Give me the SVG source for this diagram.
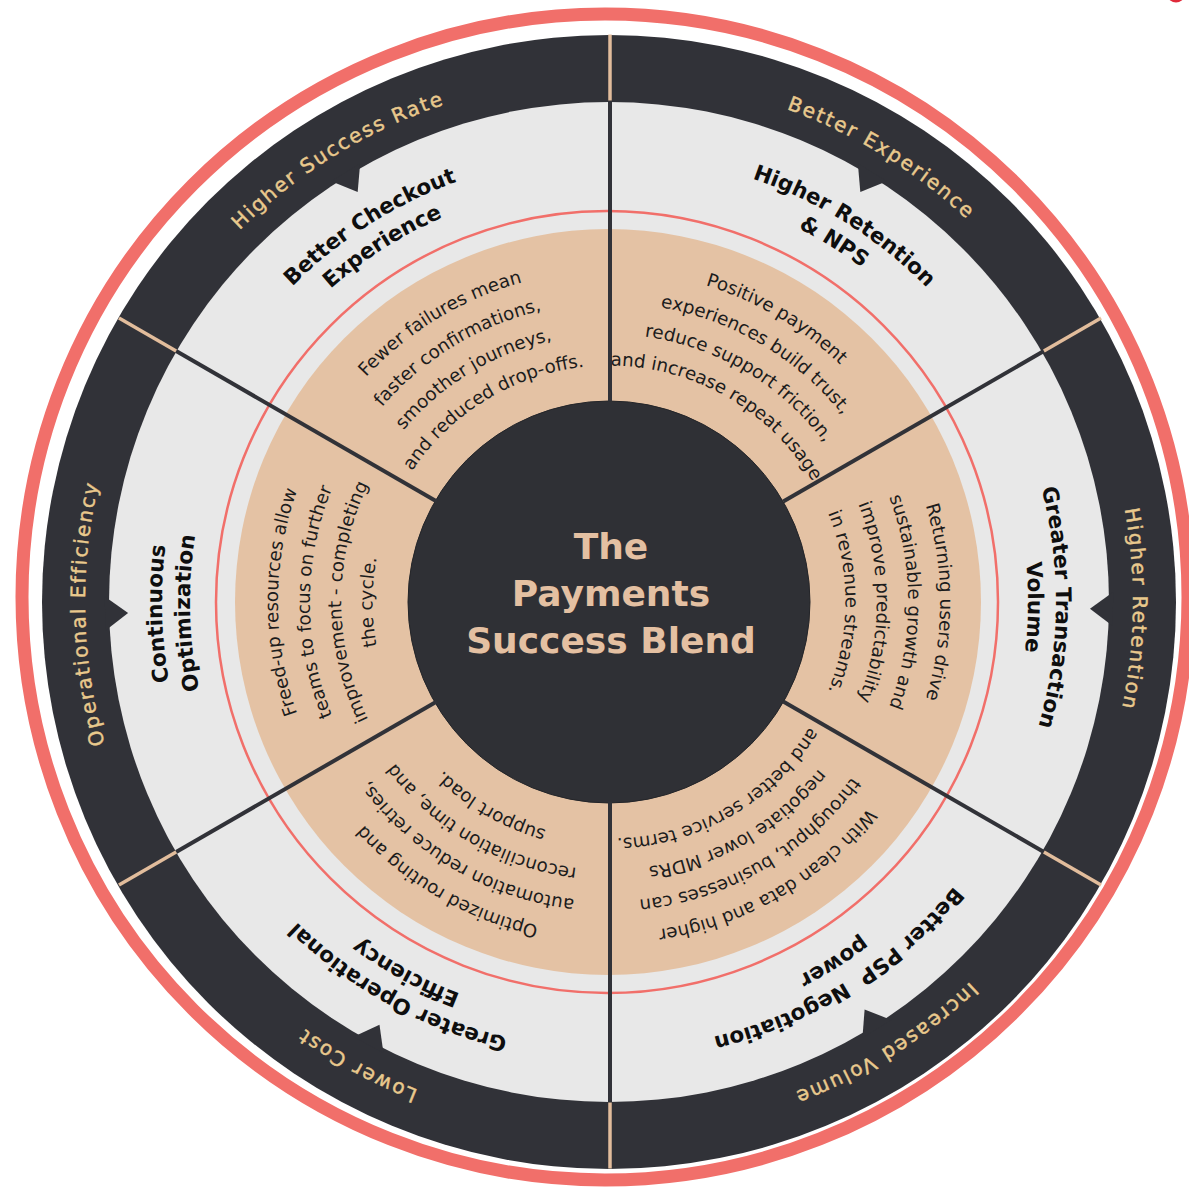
<svg xmlns="http://www.w3.org/2000/svg" width="1189" height="1195" viewBox="0 0 1189 1195">
  <style>
    .ring-dark{fill:#313238}
    .ring-gray{fill:#e8e8e8}
    .ring-tan{fill:#e4c2a4}
    .hub{fill:#2f3035;stroke:#242529;stroke-width:1}
    .notch{fill:#313238}
    .div-in{stroke:#313238;stroke-width:4}
    .div-out{stroke:#e2bd9c;stroke-width:3.5}
    .out{font-family:"DejaVu Sans",sans-serif;font-size:20px;fill:#e9c98d;stroke:#e9c98d;stroke-width:0.45px;letter-spacing:2px;text-anchor:middle}
    .lbl{font-family:"DejaVu Sans",sans-serif;font-weight:bold;font-size:21.5px;fill:#0e0e0e;text-anchor:middle}
    .desc{font-family:"DejaVu Sans",sans-serif;font-size:18.3px;fill:#1c1c1c;text-anchor:middle}
    .title{font-family:"DejaVu Sans",sans-serif;font-weight:bold;font-size:36px;fill:#e4c0a2;text-anchor:middle}
  </style>
  <defs>
    <!-- baseline arcs, drawn for a sector that points straight up from the hub -->
    <path id="pOut" d="M-336.8,-401.4 A524,524 0 0 1 336.8,-401.4"/>
    <path id="pM1" d="M-316.1,-316.1 A447,447 0 0 1 316.1,-316.1"/>
    <path id="pM2" d="M-296.3,-296.3 A419,419 0 0 1 296.3,-296.3"/>
    <path id="pD1" d="M-326,-57.5 A331,331 0 0 1 326,-57.5"/>
    <path id="pD2" d="M-294.9,-52 A299.5,299.5 0 0 1 294.9,-52"/>
    <path id="pD3" d="M-263.9,-46.5 A268,268 0 0 1 263.9,-46.5"/>
    <path id="pD4" d="M-232.9,-41.1 A236.5,236.5 0 0 1 232.9,-41.1"/>
    <path id="notch" class="notch" d="M-17,-504 L0,-481 L17,-504 Z"/>
    <line id="divIn" class="div-in" x1="0" y1="-200" x2="0" y2="-501"/>
    <line id="divOut" class="div-out" x1="0" y1="-501" x2="0" y2="-567"/>
  </defs>

  <!-- outer red rim -->
  <circle cx="605" cy="597" r="583" fill="none" stroke="#f16f6a" stroke-width="13"/>
  <!-- small red mark at the top right corner -->
  <ellipse cx="1176" cy="-4" rx="8" ry="6.5" fill="#e02a3a"/>

  <!-- rings -->
  <g id="rings">
    <circle class="ring-dark" cx="609" cy="602" r="567"/>
    <circle class="ring-gray" cx="609" cy="602" r="500"/>
    <circle cx="607" cy="602" r="391" fill="none" stroke="#f16f6a" stroke-width="2.5"/>
    <circle class="ring-tan" cx="608" cy="602" r="373"/>
  </g>

  <!-- sector 1: top left -->
  <g id="sector-success" transform="translate(609 602) rotate(-30)">
    <g transform="rotate(-1.5)">
      <use href="#notch"/>
      <text class="out"><textPath href="#pOut" startOffset="50%">Higher Success Rate</textPath></text>
    </g>
    <g transform="rotate(-2.5)">
      <text class="lbl"><textPath href="#pM1" startOffset="50%">Better Checkout</textPath></text>
      <text class="lbl"><textPath href="#pM2" startOffset="50%">Experience</textPath></text>
    </g>
    <g transform="rotate(-1.2)">
      <text class="desc"><textPath href="#pD1" startOffset="50%">Fewer failures mean</textPath></text>
      <text class="desc"><textPath href="#pD2" startOffset="50%">faster confirmations,</textPath></text>
      <text class="desc"><textPath href="#pD3" startOffset="50%">smoother journeys,</textPath></text>
      <text class="desc"><textPath href="#pD4" startOffset="50%">and reduced drop-offs.</textPath></text>
    </g>
  </g>

  <!-- sector 2: top right -->
  <g id="sector-experience" transform="translate(609 602) rotate(30)">
    <g transform="rotate(1.5)">
      <use href="#notch"/>
      <text class="out"><textPath href="#pOut" startOffset="50%">Better Experience</textPath></text>
    </g>
    <g transform="rotate(2)">
      <text class="lbl"><textPath href="#pM1" startOffset="50%">Higher Retention</textPath></text>
      <text class="lbl"><textPath href="#pM2" startOffset="50%">&amp; NPS</textPath></text>
    </g>
    <g transform="rotate(0.6)">
      <text class="desc"><textPath href="#pD1" startOffset="50%">Positive payment</textPath></text>
      <text class="desc"><textPath href="#pD2" startOffset="50%">experiences build trust,</textPath></text>
      <text class="desc"><textPath href="#pD3" startOffset="50%">reduce support friction,</textPath></text>
      <text class="desc"><textPath href="#pD4" startOffset="50%">and increase repeat usage.</textPath></text>
    </g>
  </g>

  <!-- sector 3: right -->
  <g id="sector-retention" transform="translate(609 602) rotate(90)">
    <g transform="rotate(0.8)">
      <use href="#notch"/>
      <text class="out"><textPath href="#pOut" startOffset="50%">Higher Retention</textPath></text>
    </g>
    <g transform="rotate(0.7)">
      <text class="lbl"><textPath href="#pM1" startOffset="50%">Greater Transaction</textPath></text>
      <text class="lbl"><textPath href="#pM2" startOffset="50%">Volume</textPath></text>
    </g>
    <g>
      <text class="desc"><textPath href="#pD1" startOffset="50%">Returning users drive</textPath></text>
      <text class="desc"><textPath href="#pD2" startOffset="50%">sustainable growth and</textPath></text>
      <text class="desc"><textPath href="#pD3" startOffset="50%">improve predictability</textPath></text>
      <text class="desc"><textPath href="#pD4" startOffset="50%">in revenue streams.</textPath></text>
    </g>
  </g>

  <!-- sector 4: bottom right -->
  <g id="sector-volume" transform="translate(609 602) rotate(150)">
    <g transform="rotate(-2.1)">
      <use href="#notch"/>
      <text class="out"><textPath href="#pOut" startOffset="50%">Increased Volume</textPath></text>
    </g>
    <g transform="rotate(-2)">
      <text class="lbl" xml:space="preserve"><textPath href="#pM1" startOffset="50%">Better PSP  Negotiation</textPath></text>
      <text class="lbl"><textPath href="#pM2" startOffset="50%">power</textPath></text>
    </g>
    <g>
      <text class="desc"><textPath href="#pD1" startOffset="50%">With clean data and higher</textPath></text>
      <text class="desc"><textPath href="#pD2" startOffset="50%">throughput, businesses can</textPath></text>
      <text class="desc"><textPath href="#pD3" startOffset="50%">negotiate lower MDRs</textPath></text>
      <text class="desc"><textPath href="#pD4" startOffset="50%">and better service terms.</textPath></text>
    </g>
  </g>

  <!-- sector 5: bottom left -->
  <g id="sector-cost" transform="translate(609 602) rotate(210)">
    <g transform="rotate(-1.5)">
      <use href="#notch"/>
      <text class="out"><textPath href="#pOut" startOffset="50%">Lower Cost</textPath></text>
    </g>
    <g transform="rotate(-1.3)">
      <text class="lbl"><textPath href="#pM1" startOffset="50%">Greater Operational</textPath></text>
      <text class="lbl"><textPath href="#pM2" startOffset="50%">Efficiency</textPath></text>
    </g>
    <g>
      <text class="desc"><textPath href="#pD1" startOffset="50%">Optimized routing and</textPath></text>
      <text class="desc"><textPath href="#pD2" startOffset="50%">automation reduce retries,</textPath></text>
      <text class="desc"><textPath href="#pD3" startOffset="50%">reconciliation time, and</textPath></text>
      <text class="desc"><textPath href="#pD4" startOffset="50%">support load.</textPath></text>
    </g>
  </g>

  <!-- sector 6: left -->
  <g id="sector-efficiency" transform="translate(609 602) rotate(270)">
    <g transform="rotate(-1.3)">
      <use href="#notch"/>
      <text class="out"><textPath href="#pOut" startOffset="50%">Operational Efficiency</textPath></text>
    </g>
    <g transform="rotate(-1.5)">
      <text class="lbl"><textPath href="#pM1" startOffset="50%">Continuous</textPath></text>
      <text class="lbl"><textPath href="#pM2" startOffset="50%">Optimization</textPath></text>
    </g>
    <g>
      <text class="desc"><textPath href="#pD1" startOffset="50%">Freed-up resources allow</textPath></text>
      <text class="desc"><textPath href="#pD2" startOffset="50%">teams to focus on further</textPath></text>
      <text class="desc"><textPath href="#pD3" startOffset="50%">improvement - completing</textPath></text>
      <text class="desc"><textPath href="#pD4" startOffset="50%">the cycle.</textPath></text>
    </g>
  </g>

  <!-- hub -->
  <g id="hub">
    <circle class="hub" cx="609" cy="602" r="201"/>
    <text class="title" x="611" y="559">The</text>
    <text class="title" x="611" y="606">Payments</text>
    <text class="title" x="611" y="653">Success Blend</text>
  </g>

  <!-- sector dividers -->
  <g id="dividers" transform="translate(610 601.5)">
    <use href="#divIn"/><use href="#divOut"/>
    <use href="#divIn" transform="rotate(60)"/><use href="#divOut" transform="rotate(60)"/>
    <use href="#divIn" transform="rotate(120)"/><use href="#divOut" transform="rotate(120)"/>
    <use href="#divIn" transform="rotate(180)"/><use href="#divOut" transform="rotate(180)"/>
    <use href="#divIn" transform="rotate(240)"/><use href="#divOut" transform="rotate(240)"/>
    <use href="#divIn" transform="rotate(300)"/><use href="#divOut" transform="rotate(300)"/>
  </g>
</svg>
